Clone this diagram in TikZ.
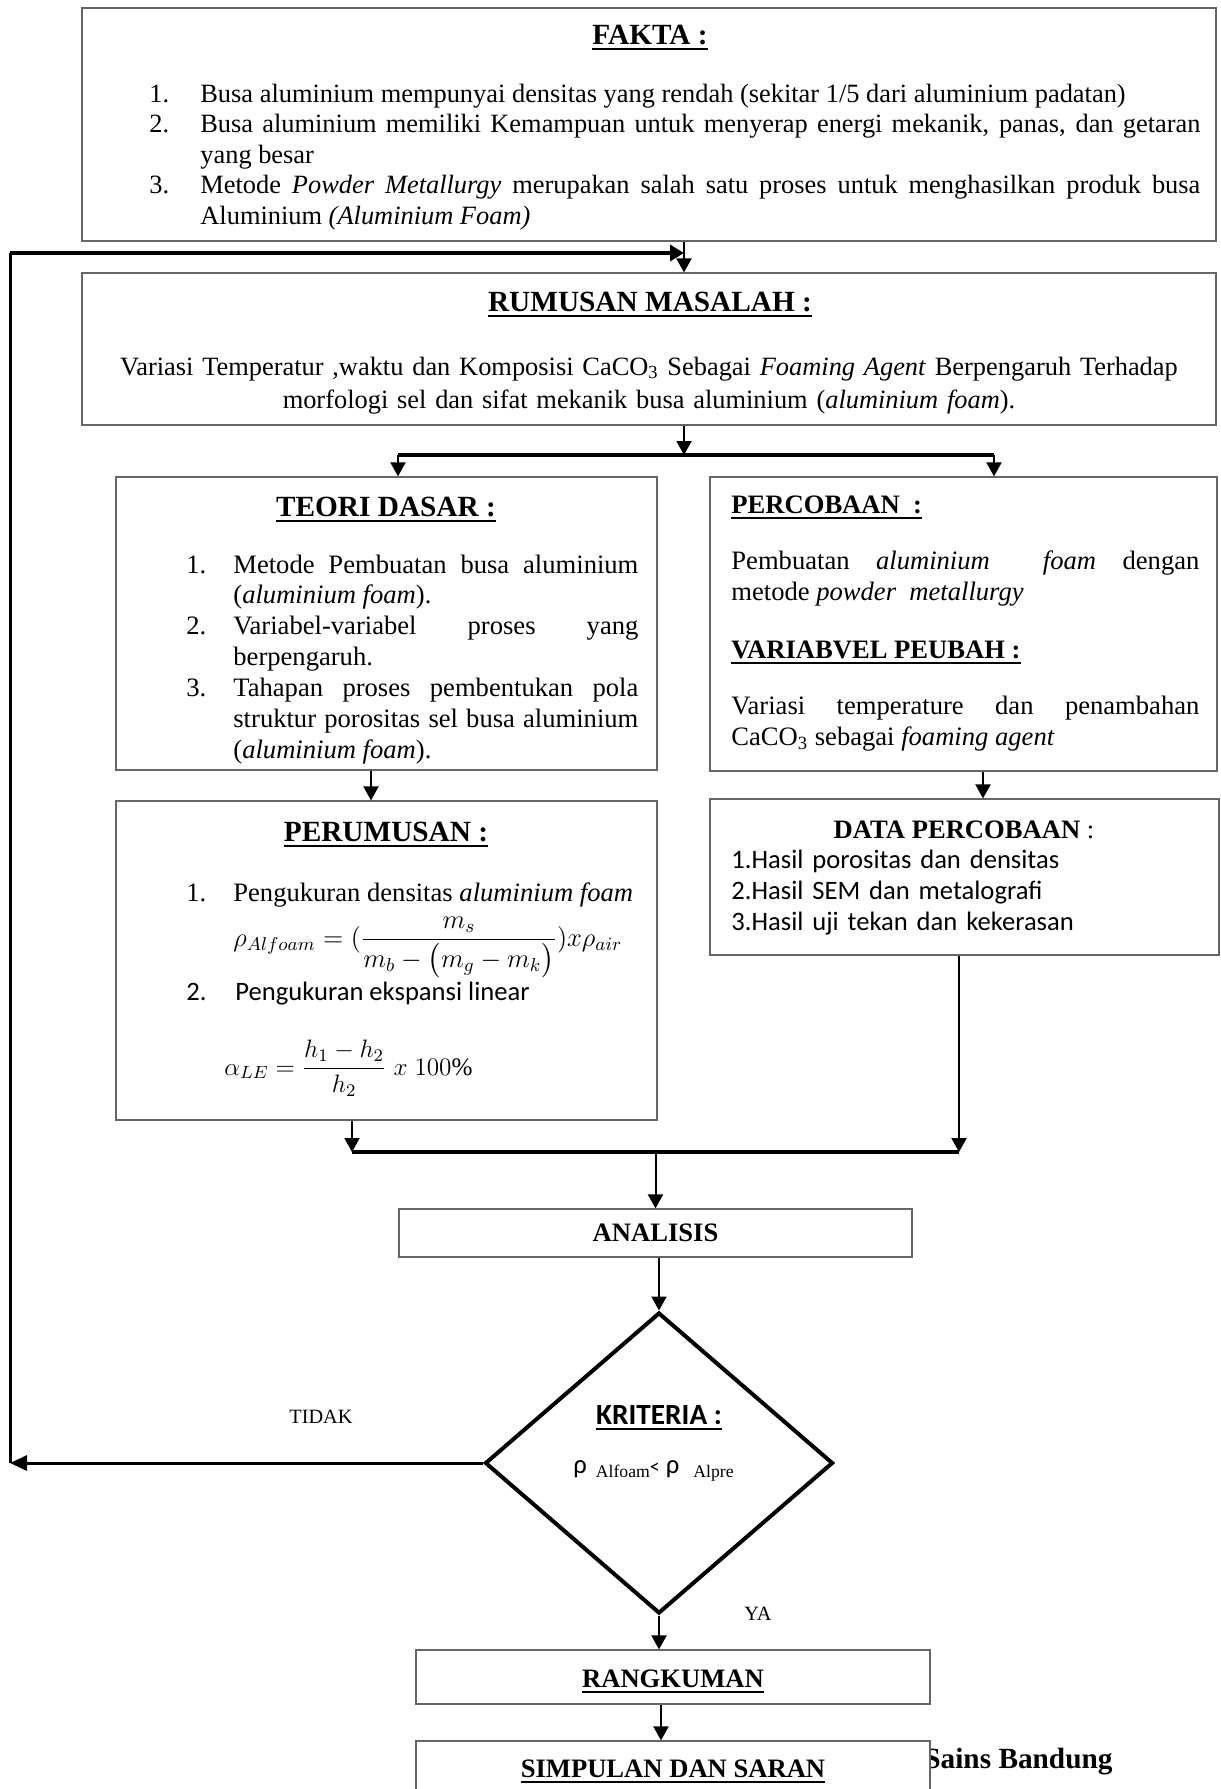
\RequirePackage{fix-cm}
\documentclass[tikz,border=0pt]{standalone}
\usepackage{amsmath}
\usepackage{fontspec}
\setmainfont{Liberation Serif}
\newfontfamily\calib{Carlito}
\usetikzlibrary{arrows.meta,calc,fit,shapes.geometric,positioning}

\hyphenpenalty=10000
\exhyphenpenalty=10000
\tolerance=10000

\newcommand{\bodysize}{\fontsize{13.3}{15.3}\selectfont}
\newcommand{\titlesize}{\fontsize{14.65}{17}\selectfont}
\newcommand{\smallsize}{\fontsize{10.15}{12}\selectfont}
\newlength{\lind}
\newsavebox{\ulbox}
\newcommand{\uln}[1]{\sbox{\ulbox}{#1}\rlap{\rule[-3pt]{\wd\ulbox}{1pt}}\usebox{\ulbox}}
\newcommand{\litem}[2]{\noindent\hangindent=\lind\hangafter=1\makebox[\lind][l]{#1}#2\par}

\tikzset{
  box/.style={draw=black!60, line width=0.6pt, inner sep=0pt, fill=white},
  txt/.style={inner sep=0pt, font=\bodysize},
  ttl/.style={inner sep=0pt, font=\titlesize\bfseries},
  para/.style={txt, text width=#1, align=justify},
  arr/.style={line width=1pt, -{Triangle[length=7pt,width=7.5pt]}},
  bus/.style={line width=2pt},
}

\begin{document}
\begin{tikzpicture}[x=0.5pt,y=-0.5pt]
  \useasboundingbox (0,0) rectangle (1221,1789);

  % Boxes.
  \node[box, fit={(82,8) (1216,241)}] (fakta) {};
  \node[box, fit={(82,273) (1216,425)}] (rumusan) {};
  \node[box, fit={(116,477) (657,770)}] (teori) {};
  \node[box, fit={(710,477) (1217,771)}] (percobaan) {};
  \node[box, fit={(116,801) (657,1120)}] (perumusan) {};
  \node[box, fit={(710,799) (1219,955)}] (data) {};
  \node[box, fit={(399,1209) (912,1257)}] (analisis) {};
  \node[diamond, draw, line width=2pt, inner sep=0pt,
        minimum width=174pt, minimum height=150.5pt] (krit) at (659,1463) {};
  \node[box, fit={(416,1650) (930,1704)}] (rangkuman) {};
  \node[ttl, anchor=base west] (sains) at (924,1768) {Sains Bandung};
  \node[box, fit={(416,1741) (930,1795)}] (simpulan) {};

  % FAKTA.
  \node[ttl, anchor=base] (faktattl) at (650,44) {\uln{FAKTA :}};
  \node[para=525.5pt, font=\fontsize{13.2}{15.25}\selectfont, anchor=base west]
    (faktalist) at (149,102) {\setlength{\lind}{25.5pt}%
    \litem{1.}{Busa aluminium mempunyai densitas yang rendah (sekitar 1/5 dari aluminium padatan)}%
    \litem{2.}{Busa aluminium memiliki Kemampuan untuk menyerap energi mekanik, panas, dan getaran\linebreak yang besar}%
    \litem{3.}{Metode \textit{Powder Metallurgy} merupakan salah satu proses untuk menghasilkan produk busa\linebreak Aluminium \textit{(Aluminium Foam)}}};

  % RUMUSAN MASALAH.
  \node[ttl, anchor=base] (rumttl) at (650,311) {\uln{RUMUSAN MASALAH :}};
  \node[txt, text width=560pt, align=center, font=\fontsize{13.2}{16.5}\selectfont, anchor=base]
    (rumtxt) at (649,375) {Variasi Temperatur ,waktu dan Komposisi CaCO\textsubscript{3} Sebagai \textit{Foaming Agent} Berpengaruh Terhadap\\
    morfologi sel dan sifat mekanik busa aluminium (\textit{aluminium foam}).};

  % TEORI DASAR.
  \node[ttl, anchor=base] (teorittl) at (386,516) {\uln{TEORI DASAR :}};
  \node[para=226pt, font=\fontsize{13.3}{15.45}\selectfont, anchor=base west]
    (teorilist) at (186,573) {\setlength{\lind}{23.5pt}%
    \litem{1.}{Metode Pembuatan busa aluminium\linebreak (\textit{aluminium foam}).}%
    \litem{2.}{\mbox{Variabel-variabel} proses yang\linebreak berpengaruh.}%
    \litem{3.}{Tahapan proses pembentukan pola\linebreak struktur porositas sel busa aluminium\linebreak (\textit{aluminium foam}).}};

  % PERCOBAAN.
  \node[txt, font=\bodysize\bfseries, anchor=base west] (percttl) at (731,513) {\uln{PERCOBAAN\ \ :}};
  \node[para=234pt, font=\fontsize{13.3}{15.5}\selectfont, anchor=base west]
    (perctxt) at (731,569) {Pembuatan \textit{aluminium}\ \ \textit{foam} dengan\linebreak metode \textit{powder\ \ metallurgy}};
  \node[txt, font=\bodysize\bfseries, anchor=base west] (varttl) at (731,658) {\uln{VARIABVEL PEUBAH :}};
  \node[para=234pt, font=\fontsize{13.3}{15.5}\selectfont, anchor=base west]
    (vartxt) at (731,714) {Variasi temperature dan penambahan\linebreak CaCO\textsubscript{3} sebagai \textit{foaming agent}};

  % PERUMUSAN.
  \node[ttl, anchor=base] (perumttl) at (386,841) {\uln{PERUMUSAN :}};
  \node[txt, anchor=base west] (perumone) at (186,901)
    {\makebox[23.5pt][l]{1.}Pengukuran densitas \textit{aluminium foam}};
  \node[txt, anchor=base west] (rhoeq) at (233,946)
    {$\rho_{Alfoam} = (\dfrac{m_s}{m_b-\bigl(m_g-m_k\bigr)})x\rho_{air}$};
  \node[txt, font=\bodysize\calib, anchor=base west] (perumtwo) at (186,1000)
    {\makebox[24.5pt][l]{2.}Pengukuran ekspansi linear};
  \node[txt, font=\fontsize{12.6}{15}\selectfont, anchor=base west] (alphaeq) at (224,1075)
    {$\alpha_{LE} = \dfrac{h_1-h_2}{h_2}\;x\;100\%$};

  % DATA PERCOBAAN.
  \node[txt, anchor=base] (datattl) at (964,838) {\textbf{DATA PERCOBAAN} :};
  \node[txt, text width=240pt, align=left, font=\fontsize{13.3}{15.6}\selectfont\calib, anchor=base west]
    (datalist) at (731,868) {1.Hasil porositas dan densitas\\2.Hasil SEM dan metalografi\\3.Hasil uji tekan dan kekerasan};

  % ANALISIS, KRITERIA and the end.
  \node[txt, font=\bodysize\bfseries, anchor=base] (analisistxt) at (655.5,1241) {ANALISIS};
  \node[txt, font=\titlesize\bfseries\calib, anchor=base] (kritttl) at (659,1424) {\uln{KRITERIA :}};
  \node[txt, anchor=base] (kritcond) at (653.5,1473)
    {{\calib ρ}\hspace{4.5pt}\raisebox{-2pt}{\fontsize{8.85}{10}\selectfont Alfoam}{\calib\fontsize{10}{12}\selectfont <}\hspace{3pt}{\calib ρ}\hspace{7pt}\raisebox{-2pt}{\fontsize{8.85}{10}\selectfont Alpre}};
  \node[txt, font=\smallsize, anchor=base west] (tidak) at (289,1423) {TIDAK};
  \node[txt, font=\smallsize, anchor=base west] (ya) at (744,1620) {YA};
  \node[txt, font=\bodysize\bfseries, anchor=base] (rangttl) at (673,1687) {\uln{RANGKUMAN}};
  \node[txt, font=\bodysize\bfseries, anchor=base] (simpttl) at (673,1777) {\uln{SIMPULAN DAN SARAN}};

  % Connectors.
  \coordinate (ax) at (684,0);
  \coordinate (brl) at (398,455);
  \coordinate (brr) at (994,455);
  \coordinate (tx) at (371,0);
  \coordinate (px) at (983,0);
  \coordinate (mgl) at (352,1152);
  \coordinate (mgr) at (959,1152);
  \coordinate (rx) at (661,0);
  \coordinate (lpb) at (10,1463);
  \coordinate (lpt) at (10,253);

  \draw[arr] (fakta.south -| ax) -- (rumusan.north -| ax);
  \draw[arr] (rumusan.south -| ax) -- (ax |- brl);
  \draw[bus] (brl) -- (brr);
  \draw[arr] (brl) -- (brl |- teori.north);
  \draw[arr] (brr) -- (brr |- percobaan.north);
  \draw[arr] (teori.south -| tx) -- (perumusan.north -| tx);
  \draw[arr] (percobaan.south -| px) -- (data.north -| px);
  \draw[arr] (perumusan.south -| mgl) -- (mgl);
  \draw[arr] (data.south -| mgr) -- (mgr);
  \draw[bus] (mgl) -- (mgr);
  \draw[arr] (mgl -| analisis) -- (analisis.north);
  \draw[arr] (analisis.south -| krit.north) -- (krit.north);
  \draw[arr] (krit.south) -- (krit.south |- rangkuman.north);
  \draw[arr] (rangkuman.south -| rx) -- (simpulan.north -| rx);

  % Loop back for TIDAK.
  \draw[line width=1.5pt, -{Triangle[length=8.5pt,width=7.5pt]}] (krit.west) -- (lpb);
  \draw[line width=1.5pt] (lpb) -- (lpt);
  \draw[bus, -{Triangle[length=7pt,width=8pt]}] (lpt) -- (lpt -| ax);
\end{tikzpicture}
\end{document}
